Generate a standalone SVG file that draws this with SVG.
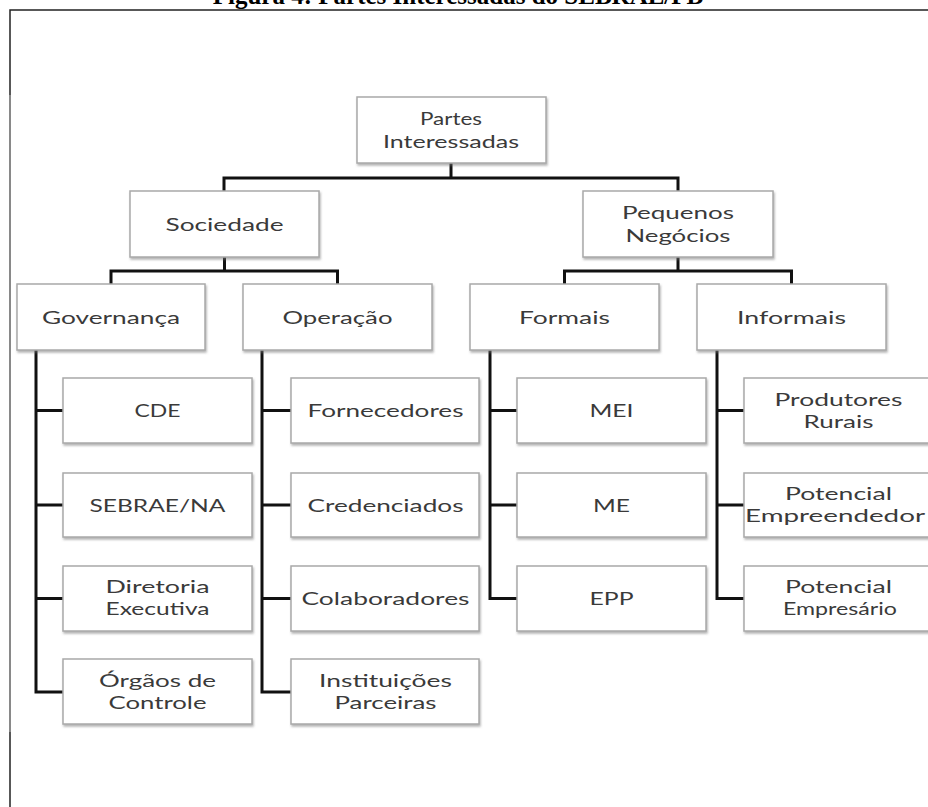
<svg xmlns="http://www.w3.org/2000/svg" width="928" height="807" viewBox="0 0 928 807">
<style>
.box rect{fill:#fff;stroke:#a9a9a9;stroke-width:1.5;filter:url(#sh)}
.lbl{font-family:Lato,"Open Sans","Liberation Sans",sans-serif;font-size:18px;fill:#3a3a3a;text-anchor:middle}
.conn{stroke:#111;stroke-width:3;fill:none}
.title{font-family:"Liberation Serif","Times New Roman",serif;font-weight:bold;font-size:25px;fill:#000;text-anchor:middle}
</style>
<defs>
<filter id="sh" x="-10%" y="-10%" width="125%" height="135%">
<feDropShadow dx="1" dy="2" stdDeviation="1.2" flood-color="#777" flood-opacity="0.55"/>
</filter>
</defs>
<rect width="928" height="807" fill="#fff"/>
<text class="title" x="458" y="4">Figura 4: Partes Interessadas do SEBRAE/PB</text>
<g id="frame" fill="none">
<path d="M10 807 V10 H928" stroke="#222" stroke-width="1.5"/>
<path d="M10 95 V732" stroke="#9a9a9a" stroke-width="1.5"/>
</g>
<g id="connectors" class="conn">
<path d="M451 163 V178 M224 191 V178 H678 V191"/>
<path d="M224.5 257 V271 M111 284 V271 H337.5 V284"/>
<path d="M678 257 V271 M564.5 284 V271 H791.5 V284"/>
<path d="M36 350 V692 H63 M36 410.5 H63 M36 505 H63 M36 598.5 H63"/>
<path d="M262 350 V692 H291 M262 410.5 H291 M262 505 H291 M262 598.5 H291"/>
<path d="M490 350 V598.5 H517 M490 410.5 H517 M490 505 H517"/>
<path d="M717 350 V598.5 H744 M717 410.5 H744 M717 505 H744"/>
</g>
<g id="n-partes" class="box"><rect x="357" y="97" width="189" height="66"/><text class="lbl" x="451" y="125" textLength="62" lengthAdjust="spacingAndGlyphs">Partes</text><text class="lbl" x="451" y="148" textLength="136" lengthAdjust="spacingAndGlyphs">Interessadas</text></g>
<g id="n-sociedade" class="box"><rect x="130" y="191" width="189" height="66"/><text class="lbl" x="224.5" y="231" textLength="118" lengthAdjust="spacingAndGlyphs">Sociedade</text></g>
<g id="n-pequenos" class="box"><rect x="583" y="191" width="190" height="66"/><text class="lbl" x="678" y="219" textLength="112" lengthAdjust="spacingAndGlyphs">Pequenos</text><text class="lbl" x="678" y="242" textLength="105" lengthAdjust="spacingAndGlyphs">Negócios</text></g>
<g id="n-governanca" class="box"><rect x="17" y="284" width="188" height="66"/><text class="lbl" x="111" y="324" textLength="138" lengthAdjust="spacingAndGlyphs">Governança</text></g>
<g id="n-operacao" class="box"><rect x="243" y="284" width="189" height="66"/><text class="lbl" x="337.5" y="324" textLength="110" lengthAdjust="spacingAndGlyphs">Operação</text></g>
<g id="n-formais" class="box"><rect x="470" y="284" width="189" height="66"/><text class="lbl" x="564.5" y="324" textLength="91" lengthAdjust="spacingAndGlyphs">Formais</text></g>
<g id="n-informais" class="box"><rect x="697" y="284" width="189" height="66"/><text class="lbl" x="791.5" y="324" textLength="109" lengthAdjust="spacingAndGlyphs">Informais</text></g>
<g id="n-cde" class="box"><rect x="63" y="378" width="189" height="65"/><text class="lbl" x="157.5" y="417" textLength="46" lengthAdjust="spacingAndGlyphs">CDE</text></g>
<g id="n-sebraena" class="box"><rect x="63" y="473" width="189" height="64"/><text class="lbl" x="157.5" y="512" textLength="136" lengthAdjust="spacingAndGlyphs">SEBRAE/NA</text></g>
<g id="n-diretoria" class="box"><rect x="63" y="566" width="189" height="65"/><text class="lbl" x="157.5" y="593" textLength="104" lengthAdjust="spacingAndGlyphs">Diretoria</text><text class="lbl" x="157.5" y="615" textLength="104" lengthAdjust="spacingAndGlyphs">Executiva</text></g>
<g id="n-orgaos" class="box"><rect x="63" y="659" width="189" height="65"/><text class="lbl" x="157.5" y="687" textLength="117" lengthAdjust="spacingAndGlyphs">Órgãos de</text><text class="lbl" x="157.5" y="709" textLength="98" lengthAdjust="spacingAndGlyphs">Controle</text></g>
<g id="n-fornecedores" class="box"><rect x="291" y="378" width="188" height="65"/><text class="lbl" x="385.5" y="417" textLength="156" lengthAdjust="spacingAndGlyphs">Fornecedores</text></g>
<g id="n-credenciados" class="box"><rect x="291" y="473" width="188" height="64"/><text class="lbl" x="385.5" y="512" textLength="156" lengthAdjust="spacingAndGlyphs">Credenciados</text></g>
<g id="n-colaboradores" class="box"><rect x="291" y="566" width="188" height="65"/><text class="lbl" x="385.5" y="605" textLength="168" lengthAdjust="spacingAndGlyphs">Colaboradores</text></g>
<g id="n-instituicoes" class="box"><rect x="291" y="659" width="188" height="65"/><text class="lbl" x="385.5" y="687" textLength="133" lengthAdjust="spacingAndGlyphs">Instituições</text><text class="lbl" x="385.5" y="709" textLength="102" lengthAdjust="spacingAndGlyphs">Parceiras</text></g>
<g id="n-mei" class="box"><rect x="517" y="378" width="189" height="65"/><text class="lbl" x="611.5" y="417" textLength="44" lengthAdjust="spacingAndGlyphs">MEI</text></g>
<g id="n-me" class="box"><rect x="517" y="473" width="189" height="64"/><text class="lbl" x="611.5" y="512" textLength="37" lengthAdjust="spacingAndGlyphs">ME</text></g>
<g id="n-epp" class="box"><rect x="517" y="566" width="189" height="65"/><text class="lbl" x="611.5" y="605" textLength="44" lengthAdjust="spacingAndGlyphs">EPP</text></g>
<g id="n-produtores" class="box"><rect x="744" y="378" width="189" height="65"/><text class="lbl" x="838.5" y="406" textLength="128" lengthAdjust="spacingAndGlyphs">Produtores</text><text class="lbl" x="838.5" y="428" textLength="70" lengthAdjust="spacingAndGlyphs">Rurais</text></g>
<g id="n-empreendedor" class="box"><rect x="744" y="473" width="189" height="64"/><text class="lbl" x="838.5" y="500" textLength="107" lengthAdjust="spacingAndGlyphs">Potencial</text><text class="lbl" x="835" y="522" textLength="180" lengthAdjust="spacingAndGlyphs">Empreendedor</text></g>
<g id="n-empresario" class="box"><rect x="744" y="566" width="189" height="65"/><text class="lbl" x="838.5" y="593" textLength="107" lengthAdjust="spacingAndGlyphs">Potencial</text><text class="lbl" x="840" y="615" textLength="114" lengthAdjust="spacingAndGlyphs">Empresário</text></g>
</svg>
